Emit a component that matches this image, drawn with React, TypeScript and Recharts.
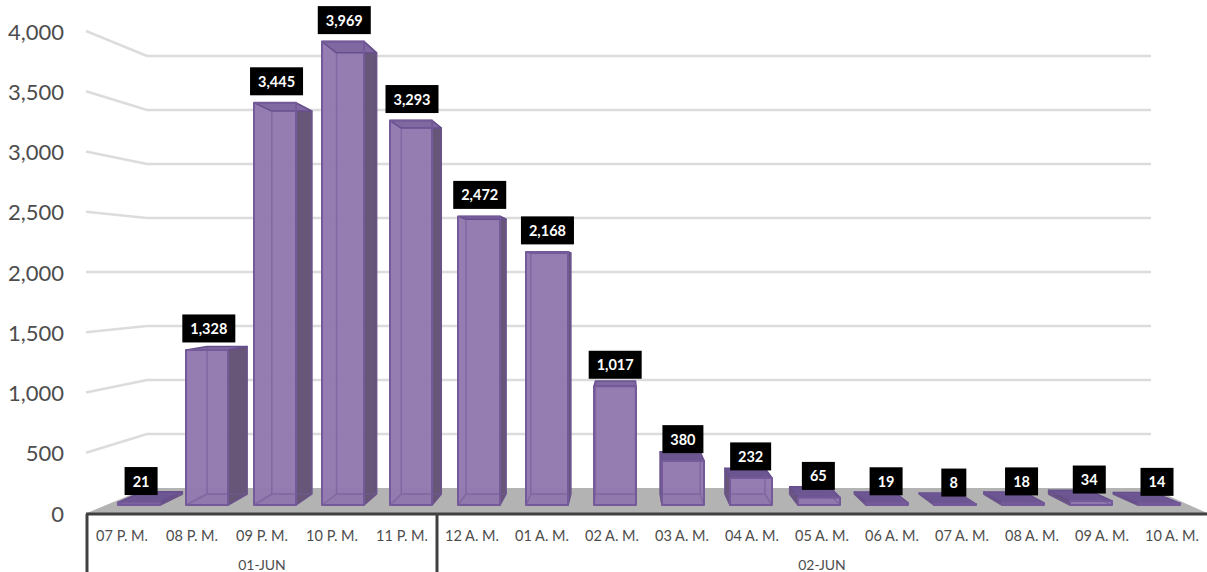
import React from 'react'
import { BarChart, Bar, XAxis, YAxis, CartesianGrid, LabelList } from 'recharts'

const hours = [
  '07 P. M.', '08 P. M.', '09 P. M.', '10 P. M.', '11 P. M.', '12 A. M.', '01 A. M.', '02 A. M.',
  '03 A. M.', '04 A. M.', '05 A. M.', '06 A. M.', '07 A. M.', '08 A. M.', '09 A. M.', '10 A. M.',
]
const counts = [21, 1328, 3445, 3969, 3293, 2472, 2168, 1017, 380, 232, 65, 19, 8, 18, 34, 14]
const days = ['01-JUN', '02-JUN']
const dayOfHour = [0, 0, 0, 0, 0, 1, 1, 1, 1, 1, 1, 1, 1, 1, 1, 1]
const yTicks = [0, 500, 1000, 1500, 2000, 2500, 3000, 3500, 4000]

const data = hours.map((hour, i) => ({ hour, count: counts[i] }))

const FONT = 'Lato, sans-serif'
const TEXT = '#4d4d4d'
const AXIS = '#404040'

// perspective of the fake 3D box
const VP_X = 625
const VP_Y = 276
const DEPTH = 0.048
const PLOT_BOTTOM = 505
const PLOT_HEIGHT = 467

const backX = (x: number) => x + (VP_X - x) * DEPTH
const backY = (y: number) => y + (VP_Y - y) * DEPTH
const pts = (list: number[][]) => list.map((p) => p.join(',')).join(' ')

// the value labels and the walls sit on other planes than the bars
const axisLabelY = (y: number) => 513 + (y - PLOT_BOTTOM) * (482 / PLOT_HEIGHT)
const wallY = (y: number) => 488 + (y - PLOT_BOTTOM) * (432 / PLOT_HEIGHT)
const hourLabelX = (x: number) => 647 + (x - 649) * (70 / 68)

function Box3D(props: any) {
  const { x, y, width, height } = props
  const x0 = x
  const x1 = x + width
  const y0 = y
  const y1 = y + height
  const bx0 = backX(x0)
  const bx1 = backX(x1)
  const by0 = backY(y0)
  const by1 = backY(y1)
  const edge = '#745a98'
  const lid = height < 60 ? '#6c5691' : '#7f69a0'
  return (
    <g strokeLinejoin="round">
      <polygon points={pts([[x0, y1], [x1, y1], [bx1, by1], [bx0, by1]])} fill="#80699f" fillOpacity={0.8} />
      {bx1 > x1 && (
        <polygon points={pts([[x1, y0], [bx1, by0], [bx1, by1], [x1, y1]])} fill="#685679" stroke="#5f4c7c" strokeWidth={1.5} />
      )}
      {bx0 < x0 && (
        <polygon points={pts([[x0, y0], [bx0, by0], [bx0, by1], [x0, y1]])} fill="#685679" stroke="#5f4c7c" strokeWidth={1.5} />
      )}
      <rect x={x0} y={y0} width={width} height={height} fill="#9279ae" fillOpacity={0.97} />
      <polygon points={pts([[x0, y0], [x1, y0], [bx1, by0], [bx0, by0]])} fill={lid} stroke="#674f8e" strokeWidth={1.5} />
      <path
        d={`M${bx0},${by0} V${by1} H${bx1} V${by0} M${bx0},${by1} L${x0},${y1} M${bx1},${by1} L${x1},${y1}`}
        fill="none"
        stroke={edge}
        strokeWidth={1.5}
        strokeOpacity={0.6}
      />
      <rect x={x0} y={y0} width={width} height={height} fill="none" stroke={edge} strokeWidth={2} />
    </g>
  )
}

function ValueLabel(props: any) {
  const { x, y, width, value } = props
  const text = Number(value).toLocaleString('en-US')
  const w = text.length > 3 ? 53 : text.length === 3 ? 41 : text.length === 2 ? 33 : 25
  const cx = x + width / 2 + (640 - x) * 0.004
  return (
    <g>
      <rect x={cx - w / 2} y={y - 35.5} width={w} height={28} fill="#000" />
      <text x={cx} y={y - 21.5} textAnchor="middle" dominantBaseline="central" fill="#fff" fontFamily={FONT} fontWeight={700} fontSize={14.5}>
        {text}
      </text>
    </g>
  )
}

function WallLine(props: any) {
  const { y1 } = props
  if (Math.abs(y1 - PLOT_BOTTOM) < 0.5) {
    return (
      <g>
        <polygon points={pts([[87, 513], [147, 488], [1151, 488], [1207, 513]])} fill="#b3b3b3" />
        <line x1={86} x2={1207} y1={514} y2={514} stroke={AXIS} strokeWidth={3} />
      </g>
    )
  }
  return (
    <polyline
      points={pts([[86, axisLabelY(y1)], [147, wallY(y1)], [1151, wallY(y1)]])}
      fill="none"
      stroke="#dcdcdc"
      strokeWidth={2.5}
    />
  )
}

function ValueTick(props: any) {
  const { y, payload } = props
  return (
    <text x={64} y={axisLabelY(y)} textAnchor="end" dominantBaseline="central" fill={TEXT} fontFamily={FONT} fontSize={22}>
      {Number(payload.value).toLocaleString('en-US')}
    </text>
  )
}

function HourTick(props: any) {
  const { x, y, payload } = props
  return (
    <text x={hourLabelX(x)} y={y + 28} textAnchor="middle" dominantBaseline="central" fill={TEXT} fontFamily={FONT} fontSize={14.5}>
      {payload.value}
    </text>
  )
}

function DayTick(props: any) {
  const { x, y, index } = props
  const day = dayOfHour[index]
  const first = dayOfHour.indexOf(day)
  const last = dayOfHour.lastIndexOf(day)
  const mid = (first + last) / 2
  const lx = hourLabelX(x)
  return (
    <g>
      {index === first && <line x1={lx - 35} x2={lx - 35} y1={514} y2={572} stroke={AXIS} strokeWidth={3} />}
      {index === Math.floor(mid) && (
        <text
          x={lx + (mid - index) * 70}
          y={y + 27}
          textAnchor="middle"
          dominantBaseline="central"
          fill={TEXT}
          fontFamily={FONT}
          fontSize={14}
        >
          {days[day]}
        </text>
      )}
    </g>
  )
}

export default function App() {
  return (
    <div style={{ position: 'absolute', left: 0, top: 0 }}>
      <BarChart width={1207} height={572} data={data} margin={{ top: 38, right: 14, bottom: 0, left: 0 }} barSize={42}>
        <CartesianGrid vertical={false} horizontal={(p: any) => <WallLine key={p.key} {...p} />} />
        <YAxis width={105} domain={[0, 4000]} ticks={yTicks} axisLine={false} tickLine={false} tick={<ValueTick />} />
        <XAxis xAxisId={0} dataKey="hour" height={30} interval={0} axisLine={false} tickLine={false} tickSize={0} tick={<HourTick />} />
        <XAxis xAxisId={1} dataKey="hour" height={37} interval={0} axisLine={false} tickLine={false} tickSize={0} tick={<DayTick />} />
        <Bar dataKey="count" xAxisId={0} shape={<Box3D />} isAnimationActive={false}>
          <LabelList dataKey="count" content={<ValueLabel />} />
        </Bar>
      </BarChart>
    </div>
  )
}
